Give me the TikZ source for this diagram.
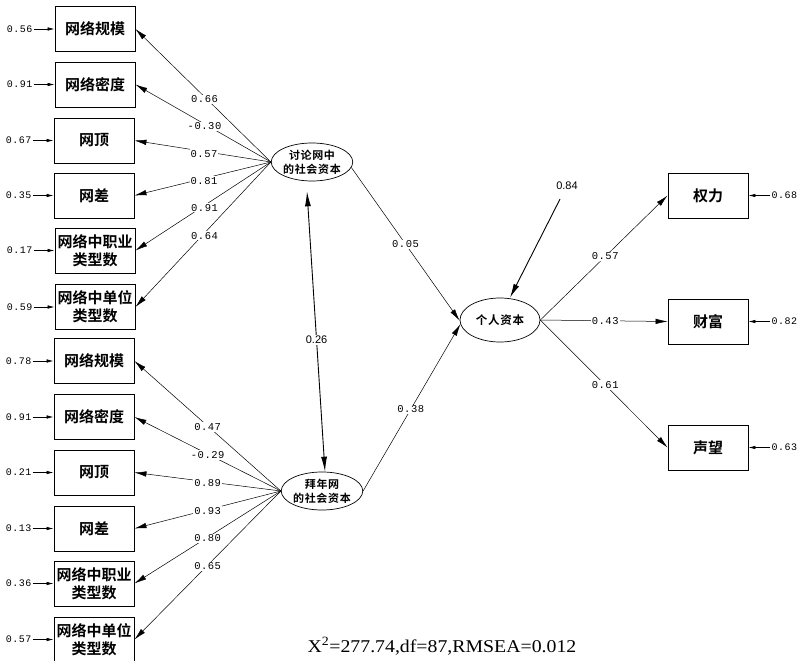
\documentclass[tikz,border=0pt]{standalone}
\usepackage{fontspec}
\setmainfont{Liberation Serif}
\newfontfamily\fitf{Liberation Serif}[FakeStretch=1.1]
\newfontfamily\cjk{Noto Sans CJK SC}[BoldFont={Noto Sans CJK SC Bold}]
\newfontfamily\cjkl{Noto Sans CJK SC}[BoldFont={Noto Sans CJK SC Bold},LetterSpace=6]
\newfontfamily\monof{Liberation Mono}[LetterSpace=5]
\newfontfamily\sansf{Liberation Sans}
\usetikzlibrary{arrows.meta,shapes.geometric}
\tikzset{
  obs/.style={draw, line width=0.9pt, minimum width=80pt, minimum height=45pt, inner sep=0pt,
    align=center, font=\cjk\bfseries\fontsize{15}{18}\selectfont},
  lat/.style={ellipse, draw, line width=0.7pt, minimum width=80pt, minimum height=38pt, inner sep=0pt,
    align=center, font=\cjkl\bfseries\fontsize{11}{14}\selectfont},
  lbl/.style={fill=white, inner sep=1pt, font=\monof\fontsize{10.5}{11}\selectfont},
  slbl/.style={fill=white, inner sep=1pt, font=\sansf\fontsize{11}{12}\selectfont},
  errt/.style={inner sep=1pt, font=\monof\fontsize{10}{11}\selectfont},
  ld/.style={line width=0.5pt, -{Latex[length=12pt,width=5.5pt]}},
  ea/.style={line width=0.6pt, -{Latex[length=7pt,width=3.5pt]}},
  big/.style={line width=0.9pt, -{Latex[length=14pt,width=6pt]}},
  dbl/.style={line width=0.9pt, {Latex[length=15pt,width=6pt]}-{Latex[length=15pt,width=6pt]}}
}
\begin{document}
\begin{tikzpicture}[x=1pt,y=-1pt]
\useasboundingbox (0,0) rectangle (801,661);

% latent variables
\node[lat] (e1) at (312,162) {讨论网中\\的社会资本};
\node[lat] (e2) at (322,491) {拜年网\\的社会资本};
\node[lat, minimum height=44pt, font=\cjkl\bfseries\fontsize{11.5}{13}\selectfont] (e3) at (500,320) {个人资本};

% top indicator boxes
\node[obs] (a1) at (95,29) {网络规模};
\node[obs] (a2) at (95,84.5) {网络密度};
\node[obs] (a3) at (94,140.5) {网顶};
\node[obs] (a4) at (94,195.5) {网差};
\node[obs] (a5) at (95,250.5) {网络中职业\\类型数};
\node[obs] (a6) at (95,307) {网络中单位\\类型数};

% bottom indicator boxes
\node[obs] (b1) at (94,361) {网络规模};
\node[obs] (b2) at (94,417) {网络密度};
\node[obs] (b3) at (94,472.5) {网顶};
\node[obs] (b4) at (94,528.5) {网差};
\node[obs] (b5) at (94,583.5) {网络中职业\\类型数};
\node[obs] (b6) at (94,639.5) {网络中单位\\类型数};

% right indicator boxes
\node[obs] (c1) at (708,195.5) {权力};
\node[obs] (c2) at (708,321.5) {财富};
\node[obs] (c3) at (708,447.5) {声望};

% error terms left
\foreach \n/\v in {a1/0.56,a2/0.91,a3/0.67,a4/0.35,a5/0.17,a6/0.59,
                   b1/0.78,b2/0.91,b3/0.21,b4/0.13,b5/0.36,b6/0.57}{
  \node[errt, anchor=east] (err\n) at ([xshift=-21pt]\n.west) {\v};
  \draw[ea] (err\n.east) -- (\n.west);
}
% error terms right
\foreach \n/\v in {c1/0.68,c2/0.82,c3/0.63}{
  \node[errt, anchor=west] (err\n) at ([xshift=22pt]\n.east) {\v};
  \draw[ea] (err\n.west) -- (\n.east);
}

% loadings top
\foreach \n/\v in {a1/0.66,a2/-0.30,a3/0.57,a4/0.81,a5/0.91,a6/0.64}{
  \draw[ld] (e1.west) -- node[lbl, pos=0.49, yshift=-2.5pt] {\v} (\n.east);
}
% loadings bottom
\foreach \n/\v in {b1/0.47,b2/-0.29,b3/0.89,b4/0.93,b5/0.80,b6/0.65}{
  \draw[ld] (e2.west) -- node[lbl, pos=0.5, yshift=-1pt] {\v} (\n.east);
}
% loadings right
\draw[ld] (e3.east) -- node[lbl, pos=0.51] {0.57} (c1.west);
\draw[ld] (e3.east) -- node[lbl, pos=0.51] {0.43} (c2.west);
\draw[ld] (e3.east) -- node[lbl, pos=0.51] {0.61} (c3.west);

% structural paths
\draw[ld] (e1.-8) -- node[lbl, pos=0.5] {0.05} (e3.181);
\draw[ld] (e2.east) -- node[lbl, pos=0.49] {0.38} (e3.186);

% correlation
\draw[dbl] ([shift={(-5,10)}]e1.south) -- node[slbl, pos=0.53] {0.26} ([xshift=3pt]e2.north);

% disturbance
\node[slbl, fill=none] (d3) at (567,186) {0.84};
\draw[big] ([shift={(-7,8)}]d3.south) -- ([xshift=10pt]e3.north);

% fit statistics
\node[inner sep=0pt, font=\fitf\fontsize{18}{20}\selectfont, anchor=base] (fit) at (442,652)
  {X\textsuperscript{2}=277.74,df=87,RMSEA=0.012};
\end{tikzpicture}
\end{document}
